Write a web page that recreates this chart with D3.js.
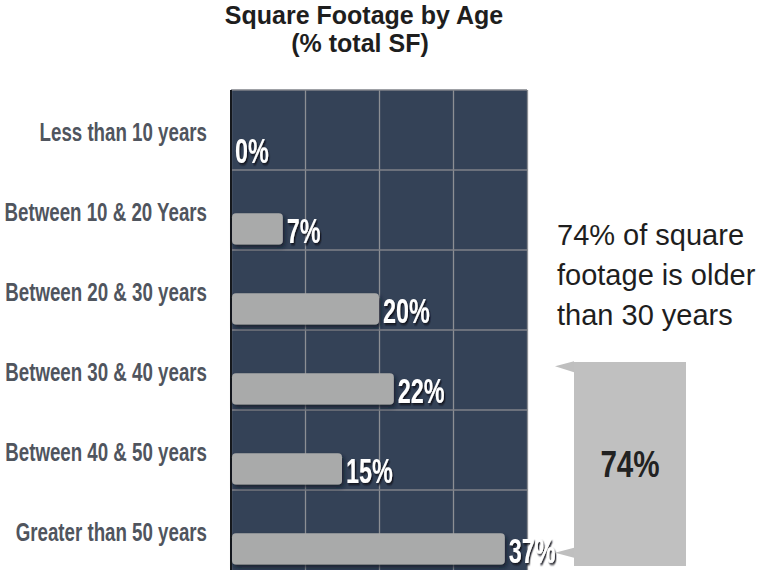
<!DOCTYPE html>
<html>
<head>
<meta charset="utf-8">
<script src="https://cdn.jsdelivr.net/npm/d3@7"></script>
<style>
  html, body { margin: 0; padding: 0; background: #ffffff; }
  svg { display: block; }
</style>
</head>
<body>
<div id="chart"></div>
<script>
// Share of total square footage by building age
const categories = [
  "Less than 10 years",
  "Between 10 & 20 Years",
  "Between 20 & 30 years",
  "Between 30 & 40 years",
  "Between 40 & 50 years",
  "Greater than 50 years"
];
const shares = [0, 7, 20, 22, 15, 37];
const xTicks = [0, 10, 20, 30, 40];
const olderThan30 = 74;
const calloutLines = ["74% of square", "footage is older", "than 30 years"];

const W = 763, H = 570;
const plot = { left: 231, right: 527, top: 90, bottom: 570 };

const svg = d3.select("#chart").append("svg")
  .attr("width", W).attr("height", H);

const defs = svg.append("defs");
const shadow = defs.append("filter").attr("id", "barShadow")
  .attr("x", "-10%").attr("y", "-20%").attr("width", "130%").attr("height", "160%");
shadow.append("feDropShadow").attr("dx", 2).attr("dy", 3).attr("stdDeviation", 2)
  .attr("flood-color", "#111a28").attr("flood-opacity", 0.8);
const txtShadow = defs.append("filter").attr("id", "textShadow")
  .attr("x", "-20%").attr("y", "-20%").attr("width", "150%").attr("height", "150%");
txtShadow.append("feDropShadow").attr("dx", 2).attr("dy", 2).attr("stdDeviation", 0.8)
  .attr("flood-color", "#0b0f18").attr("flood-opacity", 0.9);

const x = d3.scaleLinear().domain([0, 40]).range([plot.left, plot.right]);
const y = d3.scaleBand().domain(categories).range([plot.top, plot.bottom]).padding(0);
const bw = y.bandwidth();

// Title
const title = svg.append("text")
  .attr("text-anchor", "middle")
  .style("font-family", "'Liberation Sans', Arial, sans-serif")
  .style("font-weight", "bold").style("font-size", "25px").attr("fill", "#1e1e1e");
title.append("tspan").attr("x", 364).attr("y", 24).text("Square Footage by Age");
title.append("tspan").attr("x", 360).attr("y", 52).text("(% total SF)");

// Plot background
svg.append("rect")
  .attr("x", plot.left).attr("y", plot.top)
  .attr("width", plot.right - plot.left).attr("height", plot.bottom - plot.top)
  .attr("fill", "#344257");

// Vertical grid from the x axis ticks
const xGrid = svg.append("g")
  .attr("transform", `translate(0,${plot.top})`)
  .call(d3.axisTop(x).tickValues(xTicks).tickSize(-(plot.bottom - plot.top)).tickFormat(""));
xGrid.select(".domain").remove();
xGrid.selectAll(".tick line").attr("stroke", "#8c8f94").attr("stroke-width", 1.3);

// Horizontal grid at band boundaries
svg.append("g").selectAll("line")
  .data(categories)
  .join("line")
  .attr("x1", plot.left).attr("x2", plot.right)
  .attr("y1", d => y(d)).attr("y2", d => y(d))
  .attr("stroke", "#7f8289").attr("stroke-width", 1.3);

// Left axis line
svg.append("line")
  .attr("x1", plot.left).attr("x2", plot.left)
  .attr("y1", plot.top).attr("y2", plot.bottom)
  .attr("stroke", "#15181d").attr("stroke-width", 2);

// Category labels (condensed by horizontal scaling)
svg.append("g").selectAll("text")
  .data(categories)
  .join("text")
  .attr("transform", d => `translate(207,${y(d) + bw / 2 + 11}) scale(0.72,1)`)
  .attr("text-anchor", "end")
  .style("font-family", "'Liberation Sans', Arial, sans-serif")
  .style("font-weight", "bold")
  .style("font-size", "26px")
  .attr("fill", "#50555e")
  .text(d => d);

// Bars
const barTop = bw * 0.54, barH = bw * 0.39;
const rows = shares.map((v, i) => ({ cat: categories[i], v }));
svg.append("g").selectAll("rect")
  .data(rows.filter(d => d.v > 0))
  .join("rect")
  .attr("x", x(0) + 1)
  .attr("y", d => y(d.cat) + barTop)
  .attr("width", d => x(d.v) - x(0) - 1)
  .attr("height", barH)
  .attr("rx", 4).attr("ry", 4)
  .attr("fill", "#a9aaaa")
  .attr("filter", "url(#barShadow)");

// Value labels
svg.append("g").selectAll("text")
  .data(rows)
  .join("text")
  .attr("transform", d => `translate(${x(d.v) + 4},${y(d.cat) + barTop + barH / 2 + 14}) scale(0.65,1)`)
  .style("font-family", "'Liberation Sans', Arial, sans-serif")
  .style("font-weight", "bold")
  .style("font-size", "36px")
  .attr("fill", "#ffffff")
  .attr("filter", "url(#textShadow)")
  .text(d => d.v + "%");

// Callout text
svg.append("g").selectAll("text")
  .data(calloutLines)
  .join("text")
  .attr("x", 557).attr("y", (d, i) => 245 + i * 40)
  .style("font-family", "'Liberation Sans', Arial, sans-serif")
  .style("font-size", "29px")
  .attr("fill", "#1e1e1e")
  .text(d => d);

// Bracket box spanning the bands older than 30 years
const boxX = 574, boxW = 112, boxY = 362;
const firstOld = categories[3], lastOld = categories[5];
const boxBottom = 566;
const pTop = y(firstOld) + barTop - 7;
const pBot = y(lastOld) + barTop + barH / 2 + 4;
svg.append("path")
  .attr("d", `M${boxX},${pTop - 5} L${boxX - 19},${pTop} L${boxX},${pTop + 6} Z`)
  .attr("fill", "#bfbfbf");
svg.append("path")
  .attr("d", `M${boxX},${pBot - 5} L${boxX - 19},${pBot} L${boxX},${pBot + 5} Z`)
  .attr("fill", "#bfbfbf");
svg.append("rect")
  .attr("x", boxX).attr("y", boxY)
  .attr("width", boxW).attr("height", boxBottom - boxY)
  .attr("fill", "#c0c0c0");
svg.append("text")
  .attr("transform", `translate(${boxX + boxW / 2},477) scale(0.8,1)`)
  .attr("text-anchor", "middle")
  .style("font-family", "'Liberation Sans', Arial, sans-serif")
  .style("font-weight", "bold")
  .style("font-size", "37px")
  .attr("fill", "#222222")
  .text(olderThan30 + "%");
</script>
</body>
</html>
